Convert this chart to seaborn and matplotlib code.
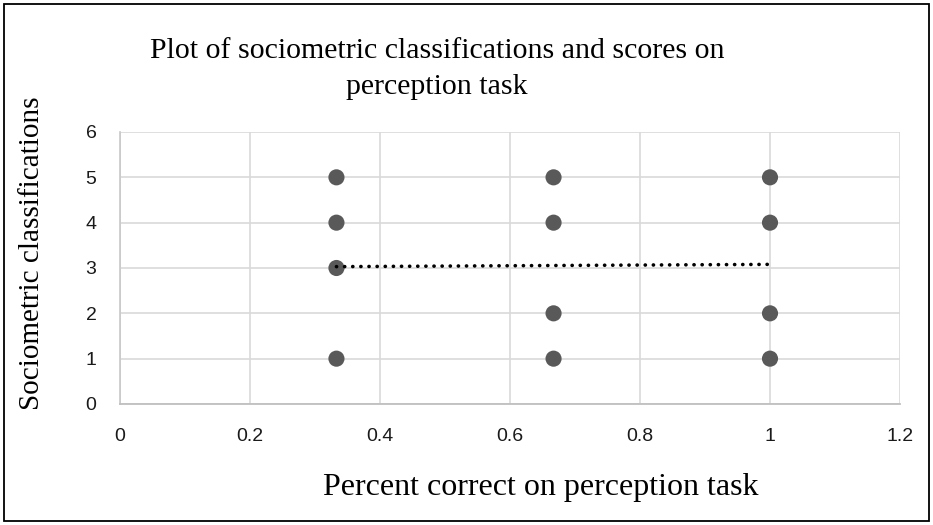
import matplotlib
matplotlib.use("Agg")
import matplotlib.pyplot as plt
import seaborn as sns
import pandas as pd
from matplotlib.patches import Rectangle

# Data
percent_correct = [0.333, 0.333, 0.333, 0.333, 0.667, 0.667, 0.667, 0.667, 1.0, 1.0, 1.0, 1.0]
classification = [5, 4, 3, 1, 5, 4, 2, 1, 5, 4, 2, 1]
trend_x = [0.333, 1.0]
trend_y = [3.03, 3.08]
x_ticks = [0, 0.2, 0.4, 0.6, 0.8, 1, 1.2]
x_tick_labels = ["0", "0.2", "0.4", "0.6", "0.8", "1", "1.2"]
y_ticks = [0, 1, 2, 3, 4, 5, 6]
y_tick_labels = ["0", "1", "2", "3", "4", "5", "6"]
title_text = "Plot of sociometric classifications and scores on\nperception task"
x_label = "Percent correct on perception task"
y_label = "Sociometric classifications"

df = pd.DataFrame({"x": percent_correct, "y": classification})
tr = pd.DataFrame({"x": trend_x, "y": trend_y})

sns.set_theme(style="white")
plt.rcParams['font.family'] = ['Liberation Serif', 'DejaVu Serif']

fig = plt.figure(figsize=(9.33, 5.25), dpi=100)
ax = fig.add_axes([120/933, 1-404/525, (900-120)/933, (404-132)/525])

sns.lineplot(data=tr, x="x", y="y", ax=ax, color="black", linestyle=(0, (0.05, 2.2)),
             linewidth=2.6, zorder=4, dash_capstyle="round", solid_capstyle="round")
sns.scatterplot(data=df, x="x", y="y", ax=ax, color="#595959", s=135,
                edgecolor="none", zorder=3)

ax.set_xlim(0, 1.2)
ax.set_ylim(0, 6)
ax.set_xticks(x_ticks)
ax.set_yticks(y_ticks)
tick_font = ['Liberation Sans Narrow', 'Liberation Sans', 'DejaVu Sans']
ax.set_xticklabels(x_tick_labels, fontsize=14, color="#1a1a1a", family=tick_font)
ax.set_yticklabels(y_tick_labels, fontsize=14, color="#1a1a1a", family=tick_font)
ax.tick_params(axis="x", length=0, pad=17)
ax.tick_params(axis="y", length=0, pad=17)
ax.grid(True, color="#d9d9d9", linewidth=1.2)
ax.set_axisbelow(True)
for s in ["top", "right"]:
    ax.spines[s].set_visible(False)
ax.spines["left"].set_color("#c8c8c8")
ax.spines["left"].set_linewidth(1.2)
ax.spines["bottom"].set_color("#bfbfbf")
ax.spines["bottom"].set_linewidth(1.3)
ax.set_xlabel("")
ax.set_ylabel("")

fig.text(437/933, 1-69/525, title_text, ha="center", va="center", fontsize=21.5,
         linespacing=1.5, color="black")
fig.text(541/933, 1-487/525, x_label, ha="center", va="center", fontsize=23, color="black")
fig.text(32/933, 1-253/525, y_label, ha="center", va="center", fontsize=21,
         rotation=90, color="black")

fig.patches.append(Rectangle((4/933, 4/525), 925/933, 517/525, transform=fig.transFigure,
                             fill=False, edgecolor="black", linewidth=1.3))

fig.savefig("out.png", dpi=100)
